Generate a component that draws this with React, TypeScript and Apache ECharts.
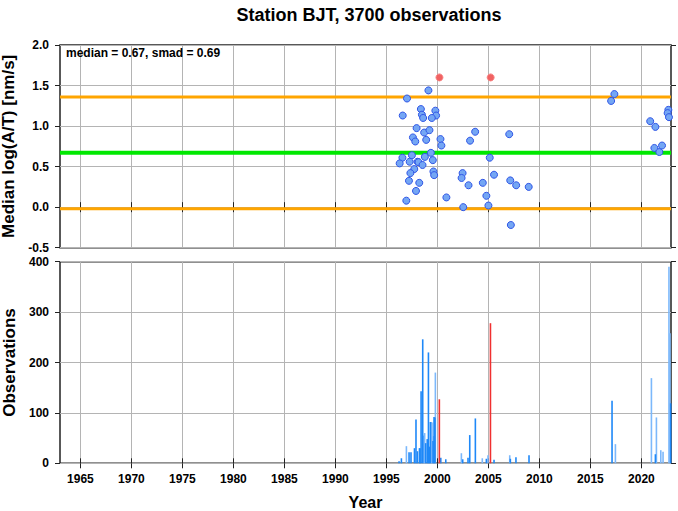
import React, { useEffect, useRef } from "react";
import * as echarts from "echarts";

const stationTitle = "Station BJT, 3700 observations";
const median = 0.67;
const smad = 0.69;
const xMin = 1963;
const xMax = 2022.9;
const yearTicks = [1965, 1970, 1975, 1980, 1985, 1990, 1995, 2000, 2005, 2010, 2015, 2020];

// [year, median log(A/T)]
const bluePoints: [number, number][] = [
  [1999.12, 1.44], [1997.02, 1.34], [1996.6, 1.13], [1998.38, 1.21], [1998.48, 1.14],
  [1998.6, 1.1], [1999.8, 1.19], [1999.87, 1.13], [1999.45, 1.1], [1997.96, 0.975],
  [1998.7, 0.92], [1999.22, 0.95], [2003.7, 0.93], [2007.04, 0.9], [1997.6, 0.86],
  [1997.83, 0.81], [1998.9, 0.83], [2000.3, 0.84], [2000.39, 0.76], [2003.2, 0.82],
  [1999.36, 0.67], [1997.5, 0.64], [1996.57, 0.61], [1996.3, 0.54], [1997.28, 0.56],
  [1998.05, 0.56], [1998.15, 0.555], [1998.77, 0.62], [1998.54, 0.52], [1999.55, 0.58],
  [2005.13, 0.61], [1997.73, 0.47], [1997.35, 0.42], [1999.61, 0.44], [1999.68, 0.395],
  [2002.47, 0.42], [2002.37, 0.36], [2005.55, 0.4], [1997.21, 0.325], [1998.22, 0.3],
  [2003.05, 0.27], [2004.45, 0.3], [2007.14, 0.33], [2007.72, 0.27], [2008.95, 0.25],
  [1997.9, 0.2], [2000.88, 0.12], [2004.8, 0.14], [1996.95, 0.08], [2002.53, 0.0],
  [2005.0, 0.02], [2007.2, -0.22],
  [2017.35, 1.395], [2017.03, 1.31], [2020.86, 1.06], [2021.37, 0.99], [2021.27, 0.73],
  [2021.76, 0.68], [2022.02, 0.76], [2022.64, 1.2], [2022.57, 1.16], [2022.7, 1.11],
];
const redPoints: [number, number][] = [
  [2000.2, 1.6], [2005.22, 1.6],
];

// [year, observations]
const barsLight: [number, number][] = [
  [1996.96, 34], [1998.65, 55], [1998.75, 60], [1999.4, 82], [1999.47, 81], [1999.62, 54],
  [1999.8, 180], [2002.35, 20], [2004.4, 10], [2004.96, 16], [2007.09, 16],
  [2017.45, 38], [2020.98, 169], [2021.47, 91], [2021.9, 26], [2022.12, 23],
  [2022.7, 390], [2022.8, 258],
];
const barsDark: [number, number][] = [
  [1996.24, 4], [1996.47, 10], [1997.22, 22], [1997.41, 22], [1997.75, 30], [1997.9, 87],
  [1998.04, 24], [1998.24, 30], [1998.3, 30], [1998.4, 143], [1998.56, 246], [1998.85, 40],
  [1999.0, 48], [1999.12, 220], [1999.2, 33], [1999.31, 82], [1999.57, 44], [1999.67, 92],
  [1999.76, 91], [2000.33, 11], [2000.82, 8], [2002.48, 8], [2003.0, 11], [2003.17, 56],
  [2003.72, 89], [2004.8, 9], [2005.55, 7], [2007.15, 9], [2007.7, 12], [2008.98, 16],
  [2017.12, 124], [2021.37, 18], [2022.87, 119],
];
const barsRed: [number, number][] = [
  [2000.19, 127], [2005.2, 278],
];

const FONT = "'Liberation Sans', Arial, Helvetica, sans-serif";
const GRID_LINE = "#b4b4b4";
const AXIS_DARK = "#222";

export default function App() {
  const ref = useRef<HTMLDivElement>(null);

  useEffect(() => {
    if (!ref.current) return;
    const chart = echarts.init(ref.current, undefined, { renderer: "svg" });

    const tickStyle = { show: true, length: 5, inside: false, lineStyle: { color: AXIS_DARK, width: 1 } };
    const labelStyle = { fontFamily: FONT, fontWeight: "bold" as const, fontSize: 12, color: "#000" };
    const nameStyle = { fontFamily: FONT, fontWeight: "bold" as const, fontSize: 17, color: "#000" };

    const xBase = (gridIndex: number, position: "top" | "bottom", labels: boolean, split: boolean) => ({
      type: "value" as const,
      gridIndex,
      position,
      min: xMin,
      max: xMax,
      axisLine: { show: false },
      axisTick: { ...tickStyle, customValues: yearTicks },
      axisLabel: labels
        ? { ...labelStyle, show: true, margin: 10, customValues: yearTicks, formatter: (v: number) => String(v) }
        : { show: false, customValues: yearTicks },
      splitLine: split ? { show: true, lineStyle: { color: GRID_LINE, width: 1 } } : { show: false },
    });

    const yTop = (position: "left" | "right", main: boolean) => ({
      type: "value" as const,
      gridIndex: 0,
      position,
      min: -0.5,
      max: 2.0,
      interval: 0.5,
      axisLine: { show: false },
      axisTick: tickStyle,
      axisLabel: main
        ? { ...labelStyle, show: true, margin: 11, formatter: (v: number) => v.toFixed(1) }
        : { show: false },
      splitLine: main ? { show: true, lineStyle: { color: GRID_LINE, width: 1 } } : { show: false },
      name: main ? "Median log(A/T) [nm/s]" : "",
      nameLocation: "middle" as const,
      nameGap: 37,
      nameTextStyle: nameStyle,
    });

    const yBottom = (position: "left" | "right", main: boolean) => ({
      type: "value" as const,
      gridIndex: 1,
      position,
      min: 0,
      max: 400,
      interval: 100,
      axisLine: { show: false },
      axisTick: tickStyle,
      axisLabel: main ? { ...labelStyle, show: true, margin: 11 } : { show: false },
      splitLine: main ? { show: true, lineStyle: { color: GRID_LINE, width: 1 } } : { show: false },
      name: main ? "Observations" : "",
      nameLocation: "middle" as const,
      nameGap: 37,
      nameTextStyle: nameStyle,
    });

    const barData = [
      ...barsLight.map((d) => ({ value: d, itemStyle: { color: "#7cb8fb" } })),
      ...barsDark.map((d) => ({ value: d, itemStyle: { color: "#1e88f8" } })),
      ...barsRed.map((d) => ({ value: d, itemStyle: { color: "#f03030" } })),
    ];

    const refLine = (value: number, color: string, width: number) => ({
      type: "line" as const,
      xAxisIndex: 0,
      yAxisIndex: 0,
      data: [[xMin, value], [xMax, value]],
      showSymbol: false,
      symbol: "none",
      lineStyle: { color, width },
      z: 2,
      silent: true,
    });

    const gridCommon = {
      left: 60,
      right: 7,
      show: true,
      borderColor: AXIS_DARK,
      borderWidth: 1.5,
      backgroundColor: "transparent",
      containLabel: false,
      outerBoundsMode: "none",
    };

    chart.setOption({
      animation: false,
      backgroundColor: "#fff",
      title: {
        text: stationTitle,
        left: 364,
        top: 1,
        textAlign: "center",
        textStyle: { fontFamily: FONT, fontWeight: "bold", fontSize: 18, color: "#000" },
      },
      grid: [
        { ...gridCommon, top: 45, height: 202.7 },
        { ...gridCommon, top: 261.7, height: 201.6 },
      ],
      xAxis: [
        xBase(0, "bottom", false, true),
        xBase(0, "top", false, false),
        {
          ...xBase(1, "bottom", true, true),
          name: "Year",
          nameLocation: "middle",
          nameGap: 31,
          nameTextStyle: { fontFamily: FONT, fontWeight: "bold", fontSize: 16, color: "#000" },
        },
        xBase(1, "top", false, false),
      ],
      yAxis: [yTop("left", true), yTop("right", false), yBottom("left", true), yBottom("right", false)],
      graphic: [
        {
          type: "text",
          left: 66,
          top: 47,
          style: { text: `median = ${median.toFixed(2)}, smad = ${smad.toFixed(2)}`, font: `bold 12px ${FONT}`, fill: "#000" },
          z: 10,
        },
      ],
      series: [
        refLine(median + smad, "#ffa500", 3),
        refLine(median - smad, "#ffa500", 3),
        refLine(median, "#00e800", 4),
        {
          type: "scatter",
          xAxisIndex: 0,
          yAxisIndex: 0,
          data: bluePoints,
          symbol: "circle",
          symbolSize: 7,
          itemStyle: { color: "#74a6f4", borderColor: "#2f55e6", borderWidth: 1, opacity: 1 },
          z: 5,
        },
        {
          type: "scatter",
          xAxisIndex: 0,
          yAxisIndex: 0,
          data: redPoints,
          symbol: "circle",
          symbolSize: 7,
          itemStyle: { color: "#f06262", borderColor: "#f88080", borderWidth: 1, opacity: 1 },
          z: 5,
        },
        {
          type: "bar",
          xAxisIndex: 2,
          yAxisIndex: 2,
          data: barData,
          barWidth: 1.6,
          z: 3,
        },
      ],
    });

    return () => chart.dispose();
  }, []);

  return <div ref={ref} style={{ position: "fixed", left: 0, top: 0, width: 678, height: 511 }} />;
}
